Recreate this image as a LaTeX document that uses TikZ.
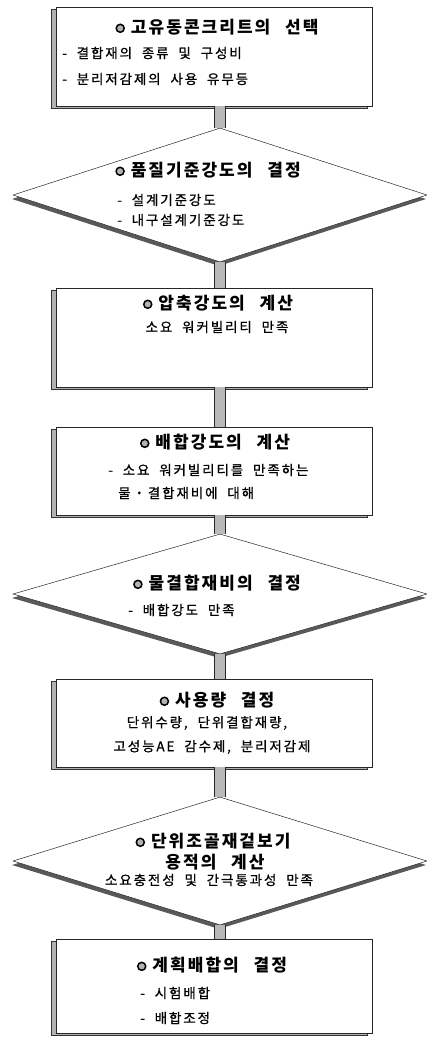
\documentclass[tikz,border=0pt]{standalone}
\usepackage{fontspec}
\usepackage{tikz}
\usetikzlibrary{shapes.geometric}
\usetikzlibrary{shadows}
\newfontfamily\krhead[LetterSpace=12,WordSpace=2.5]{Noto Sans CJK KR}
\newfontfamily\krbody[LetterSpace=14,WordSpace=2,FakeBold=0.8]{Noto Sans CJK KR}
\newcommand{\bul}{\tikz[baseline=-0.55ex]\draw[line width=1.5pt,fill=gray!60] (0,0) circle (4pt);\hspace{6pt}}
\tikzset{
	stepbox/.style={shape=rectangle,draw=black!85,line width=0.6pt,fill=white,minimum width=316pt,minimum height=#1,inner sep=0pt,
		drop shadow={shadow xshift=-5pt,shadow yshift=-2.5pt,fill=gray!60,draw=black!80,line width=0.6pt,opacity=1}},
	decision/.style={shape=diamond,draw=black!85,line width=0.5pt,fill=white,minimum width=414pt,minimum height=#1,inner sep=0pt,
		drop shadow={shadow xshift=-1pt,shadow yshift=-4pt,fill=black!65,draw=none,opacity=1}},
	link/.style={draw=black!85,line width=1pt,double=gray!55,double distance=10pt},
	headtext/.style={font=\krhead\bfseries\fontsize{17}{19}\selectfont,inner sep=0pt},
	bodytext/.style={font=\krbody\fontsize{13.5}{15}\selectfont,inner sep=0pt}
}

\begin{document}
\begin{tikzpicture}[x=1pt,y=-1pt]
	\useasboundingbox (0,0) rectangle (427,1039);
	% steps
	\node[stepbox=99pt] (sel) at (214,56.5) {};
	\node[decision=134pt] (qual) at (220,195) {};
	\node[stepbox=99pt] (comp) at (214,337.5) {};
	\node[stepbox=88pt] (mixs) at (214,471) {};
	\node[decision=120pt] (wb) at (220,594) {};
	\node[stepbox=88pt] (amt) at (214,723) {};
	\node[decision=128pt] (vol) at (220,861) {};
	\node[stepbox=94pt] (plan) at (214,986) {};
	\foreach \a / \b in {sel/qual,qual/comp,comp/mixs,mixs/wb,wb/amt,amt/vol,vol/plan} {
		\draw[link] (\a.south -| qual.north) -- (\b.north -| qual.north);
	}
	% texts
	\node[headtext] (sel t) at (217,27) {\bul 고유동콘크리트의 선택};
	\node[bodytext,anchor=west] (sel a) at (62,53) {- 결합재의 종류 및 구성비};
	\node[bodytext,anchor=west] (sel b) at (62,79) {- 분리저감제의 사용 유무등};
	\node[headtext] (qual t) at (208,170) {\bul 품질기준강도의 결정};
	\node[bodytext,anchor=west] (qual a) at (117,200) {- 설계기준강도};
	\node[bodytext,anchor=west] (qual b) at (117,220) {- 내구설계기준강도};
	\node[headtext] (comp t) at (218,303) {\bul 압축강도의 계산};
	\node[bodytext] (comp a) at (217,327) {소요 워커빌리티 만족};
	\node[headtext] (mixs t) at (215,442) {\bul 배합강도의 계산};
	\node[bodytext,anchor=west] (mixs a) at (108,470) {- 소요 워커빌리티를 만족하는};
	\node[bodytext,anchor=west] (mixs b) at (118,493) {물・결합재비에 대해};
	\node[headtext] (wb t) at (217,583) {\bul 물결합재비의 결정};
	\node[bodytext,anchor=west] (wb a) at (128,610) {- 배합강도 만족};
	\node[headtext] (amt t) at (217,700) {\bul 사용량 결정};
	\node[bodytext] (amt a) at (207,723) {단위수량, 단위결합재량,};
	\node[bodytext] (amt b) at (212,747) {고성능AE 감수제, 분리저감제};
	\node[headtext] (vol t) at (213,841) {\bul 단위조골재겉보기};
	\node[headtext] (vol u) at (215,862) {용적의 계산};
	\node[bodytext] (vol a) at (209,880) {소요충전성 및 간극통과성 만족};
	\node[headtext] (plan t) at (212,965) {\bul 계획배합의 결정};
	\node[bodytext,anchor=west] (plan a) at (140,993) {- 시험배합};
	\node[bodytext,anchor=west] (plan b) at (140,1018) {- 배합조정};
\end{tikzpicture}
\end{document}
